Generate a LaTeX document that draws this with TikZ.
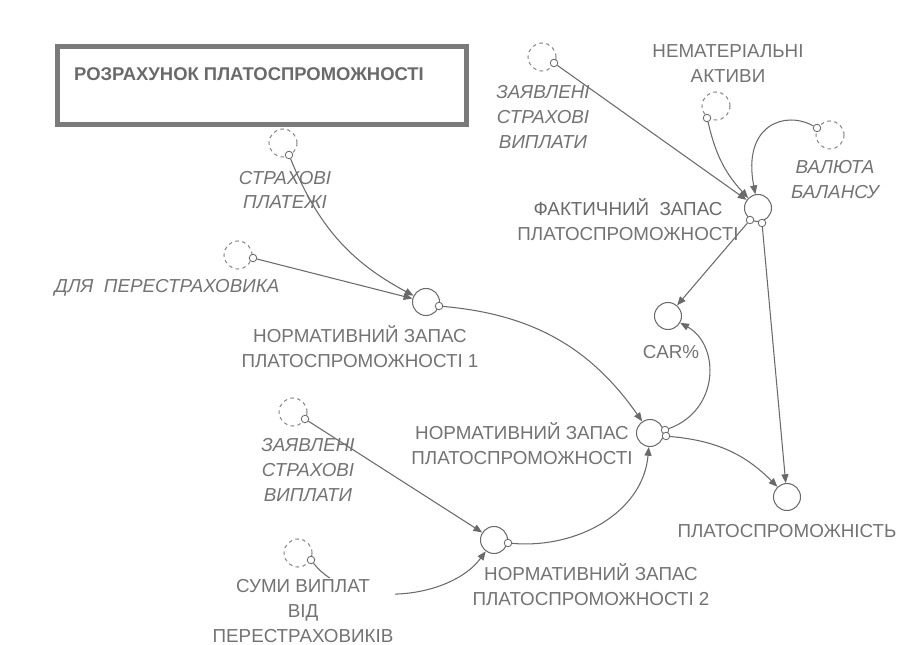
\documentclass[tikz,border=0pt]{standalone}
\usepackage{fontspec}
\setmainfont{Liberation Sans}
\usetikzlibrary{arrows.meta}
\definecolor{simline}{HTML}{6A6A6A}
\definecolor{simtext}{HTML}{737373}
\definecolor{simframe}{HTML}{7A7A7A}

\begin{document}
\begin{tikzpicture}[x=0.02cm,y=0.02cm,
  every node/.style={font=\fontsize{10.7}{14.2}\selectfont,text=simtext},
  aux/.style={circle,draw=simline,line width=0.6pt,minimum size=0.54cm,inner sep=0pt},
  shadow/.style={circle,draw=simline!80,dash pattern=on 2pt off 2pt,line width=0.6pt,minimum size=0.56cm,inner sep=0pt},
  pin/.style={circle,draw=simline,fill=white,line width=0.5pt,minimum size=0.15cm,inner sep=0pt},
  lbl/.style={align=center},
  ilbl/.style={align=center,font=\fontsize{10.7}{14.2}\selectfont\itshape},
  lnk/.style={draw=simline,line width=0.6pt,-{Triangle[length=5pt,width=4pt]}}]
\useasboundingbox (0,0) rectangle (907,-645);
\fill[white] (0,0) rectangle (907,-645);

% title frame
\draw[simframe,line width=0.1cm] (57,-47) rectangle (466,-125);
\node[anchor=west,font=\fontsize{10.5}{14}\selectfont\bfseries,text=simline] (title) at (68,-74) {РОЗРАХУНОК ПЛАТОСПРОМОЖНОСТІ};

% auxiliaries
\node[aux] (norm1) at (426,-302) {};
\node[aux] (fakt) at (758,-208) {};
\node[aux] (car) at (668,-316) {};
\node[aux] (norm) at (650,-433) {};
\node[aux] (platos) at (787,-497) {};
\node[aux] (norm2) at (494,-540) {};

% shadow variables
\node[shadow] (s-sp) at (283,-143) {};
\node[shadow] (s-dp) at (238,-255) {};
\node[shadow] (s-zt) at (542,-57) {};
\node[shadow] (s-nm) at (716,-106) {};
\node[shadow] (s-vb) at (830,-135) {};
\node[shadow] (s-zb) at (293,-412) {};
\node[shadow] (s-sv) at (298,-553) {};

% pins
\node[pin] (p-sp) at (289,-155) {};
\node[pin] (p-dp) at (253,-258) {};
\node[pin] (p-zt) at (554,-63) {};
\node[pin] (p-nm) at (707,-118) {};
\node[pin] (p-vb) at (817,-128) {};
\node[pin] (p-zb) at (305,-419) {};
\node[pin] (p-sv) at (311,-560) {};
\node[pin] (p-n1) at (439,-306) {};
\node[pin] (p-fa) at (750,-220) {};
\node[pin] (p-fb) at (762,-223) {};
\node[pin] (p-na) at (665,-430) {};
\node[pin] (p-nb) at (666,-436) {};
\node[pin] (p-n2) at (508,-543) {};

% links
\draw[lnk] (p-sp) to[bend right=20] (norm1);
\draw[lnk] (p-dp) -- (norm1);
\draw[lnk] (p-n1) to[bend left=25] (norm);
\draw[lnk] (p-zt) -- (fakt);
\draw[lnk] (p-nm) to[bend right=15] (fakt);
\draw[lnk] (p-vb) .. controls (785,-110) and (742,-125) .. (fakt);
\draw[lnk] (p-fa) -- (car);
\draw[lnk] (p-fb) -- (platos);
\draw[lnk] (p-na) .. controls (720,-410) and (720,-345) .. (car);
\draw[lnk] (p-nb) to[bend left=20] (platos);
\draw[lnk] (p-zb) -- (norm2);
\draw[lnk] (p-sv) .. controls (350,-610) and (450,-600) .. (norm2);
\draw[lnk] (p-n2) to[out=-5,in=-95] (norm);

% labels
\node[ilbl] (l-sp) at (285,-190) {СТРАХОВІ\\ПЛАТЕЖІ};
\node[ilbl] (l-dp) at (167,-288) {ДЛЯ\ \ ПЕРЕСТРАХОВИКА};
\node[ilbl] (l-zt) at (543,-117) {ЗАЯВЛЕНІ\\СТРАХОВІ\\ВИПЛАТИ};
\node[lbl] (l-nm) at (728,-64) {НЕМАТЕРІАЛЬНІ\\АКТИВИ};
\node[ilbl] (l-vb) at (835,-180) {ВАЛЮТА\\БАЛАНСУ};
\node[lbl] (l-fakt) at (628,-220) {{\color{simline}ФАКТИЧНИЙ\ \ ЗАПАС}\\ПЛАТОСПРОМОЖНОСТІ};
\node[lbl] (l-norm1) at (360,-347) {НОРМАТИВНИЙ ЗАПАС\\ПЛАТОСПРОМОЖНОСТІ 1};
\node[lbl] (l-car) at (671,-352) {CAR\%};
\node[lbl] (l-norm) at (522,-444) {НОРМАТИВНИЙ ЗАПАС\\ПЛАТОСПРОМОЖНОСТІ};
\node[lbl] (l-platos) at (787,-531) {ПЛАТОСПРОМОЖНІСТЬ};
\node[lbl] (l-norm2) at (591,-585) {НОРМАТИВНИЙ ЗАПАС\\ПЛАТОСПРОМОЖНОСТІ 2};
\node[ilbl] (l-zb) at (308,-470) {ЗАЯВЛЕНІ\\СТРАХОВІ\\ВИПЛАТИ};
\node[lbl,fill=white,inner sep=1pt] (l-sv) at (303,-611) {СУМИ ВИПЛАТ\\ВІД\\ПЕРЕСТРАХОВИКІВ};
\end{tikzpicture}
\end{document}
